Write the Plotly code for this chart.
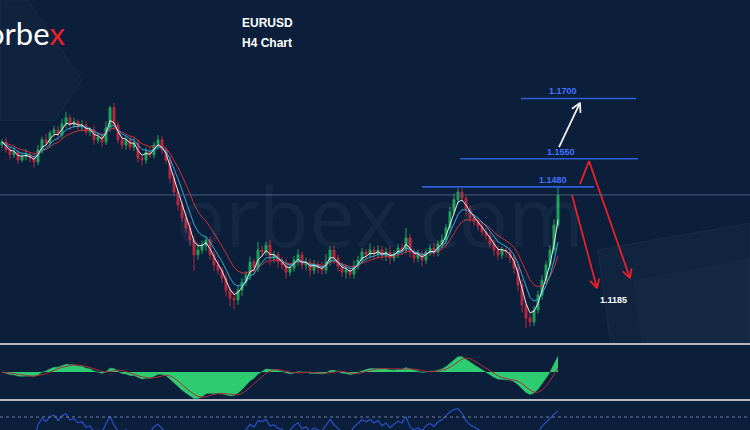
import math
import pandas as pd
import plotly.graph_objects as go

# ---------------- data ----------------
closes = [
    1.1592, 1.1572, 1.1560, 1.1567, 1.1547, 1.1555, 1.1560, 1.1552, 1.1542, 1.1572,
    1.1597, 1.1589, 1.1614, 1.1622, 1.1609, 1.1637, 1.1652, 1.1634, 1.1642, 1.1629,
    1.1634, 1.1617, 1.1622, 1.1597, 1.1604, 1.1592, 1.1627, 1.1677, 1.1634, 1.1597,
    1.1584, 1.1597, 1.1579, 1.1589, 1.1552, 1.1547, 1.1567, 1.1560, 1.1584, 1.1597,
    1.1572, 1.1547, 1.1502, 1.1467, 1.1435, 1.1403, 1.1378, 1.1348, 1.1311, 1.1323,
    1.1335, 1.1348, 1.1311, 1.1286, 1.1273, 1.1253, 1.1223, 1.1203, 1.1199, 1.1223,
    1.1243, 1.1261, 1.1293, 1.1278, 1.1323, 1.1318, 1.1335, 1.1303, 1.1311, 1.1293,
    1.1286, 1.1268, 1.1278, 1.1298, 1.1311, 1.1286, 1.1293, 1.1273, 1.1286, 1.1278,
    1.1273, 1.1293, 1.1323, 1.1303, 1.1283, 1.1268, 1.1273, 1.1263, 1.1283, 1.1298,
    1.1318, 1.1311, 1.1323, 1.1313, 1.1323, 1.1308, 1.1318, 1.1303, 1.1313, 1.1328,
    1.1323, 1.1353, 1.1318, 1.1303, 1.1311, 1.1298, 1.1318, 1.1328, 1.1318, 1.1338,
    1.1348, 1.1378, 1.1418, 1.1448, 1.1467, 1.1452, 1.1423, 1.1403, 1.1393, 1.1383,
    1.1368, 1.1358, 1.1338, 1.1323, 1.1311, 1.1323, 1.1318, 1.1303, 1.1278, 1.1236,
    1.1186, 1.1154, 1.1144, 1.1174, 1.1211, 1.1248, 1.1286, 1.1323, 1.1385, 1.1460,
]
first_open = 1.1585
upper_wick_pips = [
    6, 10, 8, 12, 5, 9, 14, 7, 10, 12,
    8, 15, 6, 10, 9, 12, 14, 8, 10, 6,
    12, 9, 7, 11, 10, 8, 16, 5, 12, 9,
    8, 10, 7, 14, 9, 6, 11, 10, 8, 12,
    9, 7, 10, 12, 8, 9, 11, 14, 10, 16,
    12, 9, 8, 10, 13, 9, 11, 7, 18, 12,
    10, 9, 14, 8, 20, 11, 9, 13, 10, 8,
    12, 15, 9, 10, 14, 8, 11, 9, 12, 10,
    16, 20, 9, 11, 8, 10, 12, 9, 14, 11,
    10, 8, 16, 9, 12, 10, 11, 14, 9, 10,
    12, 25, 10, 9, 13, 11, 8, 10, 12, 9,
    14, 10, 12, 16, 10, 12, 8, 11, 9, 10,
    12, 9, 8, 10, 11, 9, 10, 12, 8, 10,
    14, 9, 12, 10, 11, 13, 10, 12, 14, 20,
]
lower_wick_pips = [
    9, 7, 12, 8, 10, 6, 9, 11, 14, 8,
    10, 7, 12, 9, 11, 8, 10, 13, 7, 9,
    11, 8, 10, 12, 9, 14, 8, 10, 12, 9,
    10, 12, 8, 9, 11, 14, 10, 8, 9, 12,
    10, 9, 12, 11, 14, 10, 12, 15, 40, 12,
    10, 14, 12, 15, 11, 13, 16, 20, 22, 12,
    14, 10, 12, 16, 10, 12, 9, 18, 11, 14,
    12, 16, 10, 9, 14, 11, 12, 15, 10, 13,
    12, 10, 9, 14, 13, 12, 16, 10, 11, 9,
    10, 12, 9, 14, 11, 10, 12, 16, 9, 10,
    12, 9, 14, 12, 10, 16, 9, 10, 12, 11,
    10, 9, 12, 8, 10, 9, 14, 11, 10, 12,
    10, 12, 11, 14, 12, 10, 13, 12, 14, 16,
    18, 25, 12, 10, 9, 11, 10, 12, 9, 8,
]

level_values = [1.1700, 1.1550, 1.1480]
level_labels = ["1.1700", "1.1550", "1.1480"]
level_start = [129.75, 114.5, 105.0]
level_end = [158.5, 159.0, 148.0]
level_label_x = [140.25, 139.75, 137.75]

# projection paths (bar index, price)
up_path_x = [139.25, 144.5]
up_path_y = [1.1579, 1.1689]
down_a_x = [142.5, 148.75]
down_a_y = [1.1460, 1.1228]
down_b_x = [144.5, 146.75, 157.0]
down_b_y = [1.1487, 1.1544, 1.1253]
target_label = "1.1185"
target_x, target_y = 152.75, 1.1199

# ---------------- derived ----------------
n = len(closes)
xs = list(range(n))
opens = [first_open] + closes[:-1]
highs = [max(o, c) + u * 1e-4 for o, c, u in zip(opens, closes, upper_wick_pips)]
lows = [min(o, c) - d * 1e-4 for o, c, d in zip(opens, closes, lower_wick_pips)]

s = pd.Series(closes)
ma_fast = s.ewm(span=3, adjust=False).mean()
ma_mid = s.ewm(span=6, adjust=False).mean()
ma_slow = s.ewm(span=11, adjust=False).mean()
macd = s.ewm(span=6, adjust=False).mean() - s.ewm(span=13, adjust=False).mean()
signal = macd.rolling(4, min_periods=1).mean()
delta = s.diff().fillna(0)
gain = delta.clip(lower=0).ewm(alpha=1 / 7, adjust=False).mean()
loss = (-delta.clip(upper=0)).ewm(alpha=1 / 7, adjust=False).mean()
rsi = 100 - 100 / (1 + gain / loss.replace(0, 1e-9))

W, H = 750, 430
X_RANGE = [-0.5, 187.0]
Y_RANGE = [1.08754, 1.19448]


def to_px(x, y):
    px = (x - X_RANGE[0]) / (X_RANGE[1] - X_RANGE[0]) * W
    py = (Y_RANGE[1] - y) / (Y_RANGE[1] - Y_RANGE[0]) * H
    return px, py


def from_px(px, py):
    x = X_RANGE[0] + px / W * (X_RANGE[1] - X_RANGE[0])
    y = Y_RANGE[1] - py / H * (Y_RANGE[1] - Y_RANGE[0])
    return x, y


def head(xp, yp, length=10, ang=28):
    (x0, y0), (x1, y1) = to_px(xp[-2], yp[-2]), to_px(xp[-1], yp[-1])
    dx, dy = x1 - x0, y1 - y0
    d = math.hypot(dx, dy)
    ux, uy = dx / d, dy / d
    hx, hy = [], []
    for sgn in (1, -1):
        a = math.radians(ang) * sgn
        rx = ux * math.cos(a) - uy * math.sin(a)
        ry = ux * math.sin(a) + uy * math.cos(a)
        p = from_px(x1 - rx * length, y1 - ry * length)
        hx.append(p[0]); hy.append(p[1])
    return [hx[0], xp[-1], hx[1]], [hy[0], yp[-1], hy[1]]


BG = "#0b1f3b"
fig = go.Figure()

fig.add_trace(go.Candlestick(
    x=xs, open=opens, high=highs, low=lows, close=closes,
    increasing=dict(line=dict(color="#1fa35a", width=1), fillcolor="#1fa35a"),
    decreasing=dict(line=dict(color="#b8283e", width=1), fillcolor="#b8283e"),
    whiskerwidth=0, showlegend=False, hoverinfo="skip"))
fig.add_trace(go.Scatter(x=xs, y=ma_slow, mode="lines", line=dict(color="#c8303c", width=1), hoverinfo="skip"))
fig.add_trace(go.Scatter(x=xs, y=ma_mid, mode="lines", line=dict(color="#2fa8d8", width=1), hoverinfo="skip"))
fig.add_trace(go.Scatter(x=xs, y=ma_fast, mode="lines", line=dict(color="#e6e8ee", width=1), hoverinfo="skip"))

# levels
for v, a, b in zip(level_values, level_start, level_end):
    fig.add_trace(go.Scatter(x=[a, b], y=[v, v], mode="lines", line=dict(color="#2c5fd8", width=1.6), hoverinfo="skip"))

# projection arrows
for px_, py_, col in [(up_path_x, up_path_y, "#f2f2f2"), (down_a_x, down_a_y, "#e8202a"), (down_b_x, down_b_y, "#e8202a")]:
    fig.add_trace(go.Scatter(x=px_, y=py_, mode="lines", line=dict(color=col, width=1.8), hoverinfo="skip"))
    hx, hy = head(px_, py_)
    fig.add_trace(go.Scatter(x=hx, y=hy, mode="lines", line=dict(color=col, width=1.8), hoverinfo="skip"))

# MACD
fig.add_trace(go.Scatter(x=xs, y=macd, mode="lines", fill="tozeroy", fillcolor="#2ecc71",
                         line=dict(color="#2ecc71", width=0.5), yaxis="y2", hoverinfo="skip"))
fig.add_trace(go.Scatter(x=xs, y=signal, mode="lines", line=dict(color="#a8303e", width=1), yaxis="y2", hoverinfo="skip"))
R = float(max(macd.abs().max(), signal.abs().max())) * 1.06

# RSI
fig.add_trace(go.Scatter(x=xs, y=rsi, mode="lines", line=dict(color="#2a50c8", width=1.2), yaxis="y3", hoverinfo="skip"))

shapes = []
# decorative background panels
shapes.append(dict(type="path", xref="paper", yref="paper", layer="below",
                   path="M 0 1 L 0.037 1 L 0.109 0.814 L 0.073 0.72 L 0 0.72 Z",
                   fillcolor="rgba(255,255,255,0.02)", line=dict(color="rgba(255,255,255,0.05)", width=1)))
shapes.append(dict(type="path", xref="paper", yref="paper", layer="below",
                   path="M 0.797 0.419 L 1 0.481 L 1 0 L 0.83 0 Z",
                   fillcolor="rgba(255,255,255,0.025)", line=dict(color="rgba(255,255,255,0.05)", width=1)))
shapes.append(dict(type="path", xref="paper", yref="paper", layer="below",
                   path="M 0.844 0.349 L 1 0.40 L 1 0 L 0.87 0 Z",
                   fillcolor="rgba(255,255,255,0.02)", line=dict(width=0)))
# current price line
shapes.append(dict(type="line", xref="paper", x0=0, x1=1, yref="y", y0=closes[-1], y1=closes[-1],
                   line=dict(color="#4d5d7a", width=1)))
# MACD panel borders
for yy in (0, 1):
    shapes.append(dict(type="line", xref="paper", x0=0, x1=1, yref="y2 domain", y0=yy, y1=yy,
                       line=dict(color="#b4b8c4", width=2)))
# RSI level
shapes.append(dict(type="line", xref="paper", x0=0, x1=1, yref="y3", y0=70, y1=70,
                   line=dict(color="#6f7f9c", width=1, dash="dot")))

annotations = []
annotations.append(dict(text="orbex.com", xref="paper", yref="paper", x=380 / W, y=1 - 215 / H,
                        showarrow=False, font=dict(family="Open Sans", size=82, color="rgba(255,255,255,0.045)")))
annotations.append(dict(text="orbe<span style='color:#e8202a'>x</span>", xref="paper", yref="paper",
                        x=67 / W, y=1 - 33 / H, xanchor="right", yanchor="middle", showarrow=False,
                        font=dict(family="Lato", size=31, color="#ffffff")))
annotations.append(dict(text="<b>EURUSD</b>", xref="paper", yref="paper", x=240 / W, y=1 - 23 / H,
                        xanchor="left", yanchor="middle", showarrow=False,
                        font=dict(family="Liberation Sans", size=12, color="#ffffff")))
annotations.append(dict(text="<b>H4 Chart</b>", xref="paper", yref="paper", x=240 / W, y=1 - 43 / H,
                        xanchor="left", yanchor="middle", showarrow=False,
                        font=dict(family="Liberation Sans", size=12, color="#ffffff")))
for v, t, lx in zip(level_values, level_labels, level_label_x):
    annotations.append(dict(text="<b>" + t + "</b>", x=lx, y=v, xref="x", yref="y", yshift=7,
                            showarrow=False, font=dict(family="Liberation Sans", size=9, color="#3f74ff")))
annotations.append(dict(text="<b>" + target_label + "</b>", x=target_x, y=target_y, xref="x", yref="y",
                        showarrow=False, font=dict(family="Liberation Sans", size=9, color="#ffffff")))

fig.update_layout(
    width=W, height=H, margin=dict(l=0, r=0, t=0, b=0),
    paper_bgcolor=BG, plot_bgcolor=BG, showlegend=False,
    xaxis=dict(range=X_RANGE, visible=False, rangeslider=dict(visible=False), fixedrange=True),
    yaxis=dict(domain=[0, 1], range=Y_RANGE, visible=False, fixedrange=True),
    yaxis2=dict(domain=[1 - 400 / H, 1 - 344 / H], range=[-R, R], visible=False, fixedrange=True),
    yaxis3=dict(domain=[0, 1 - 400 / H], range=[44, 104], visible=False, fixedrange=True),
    shapes=shapes, annotations=annotations,
)
fig.write_html("out.html", config={"displayModeBar": False},
               post_script="document.body.style.margin='0';document.body.style.overflow='hidden';document.body.style.background='" + BG + "';")
